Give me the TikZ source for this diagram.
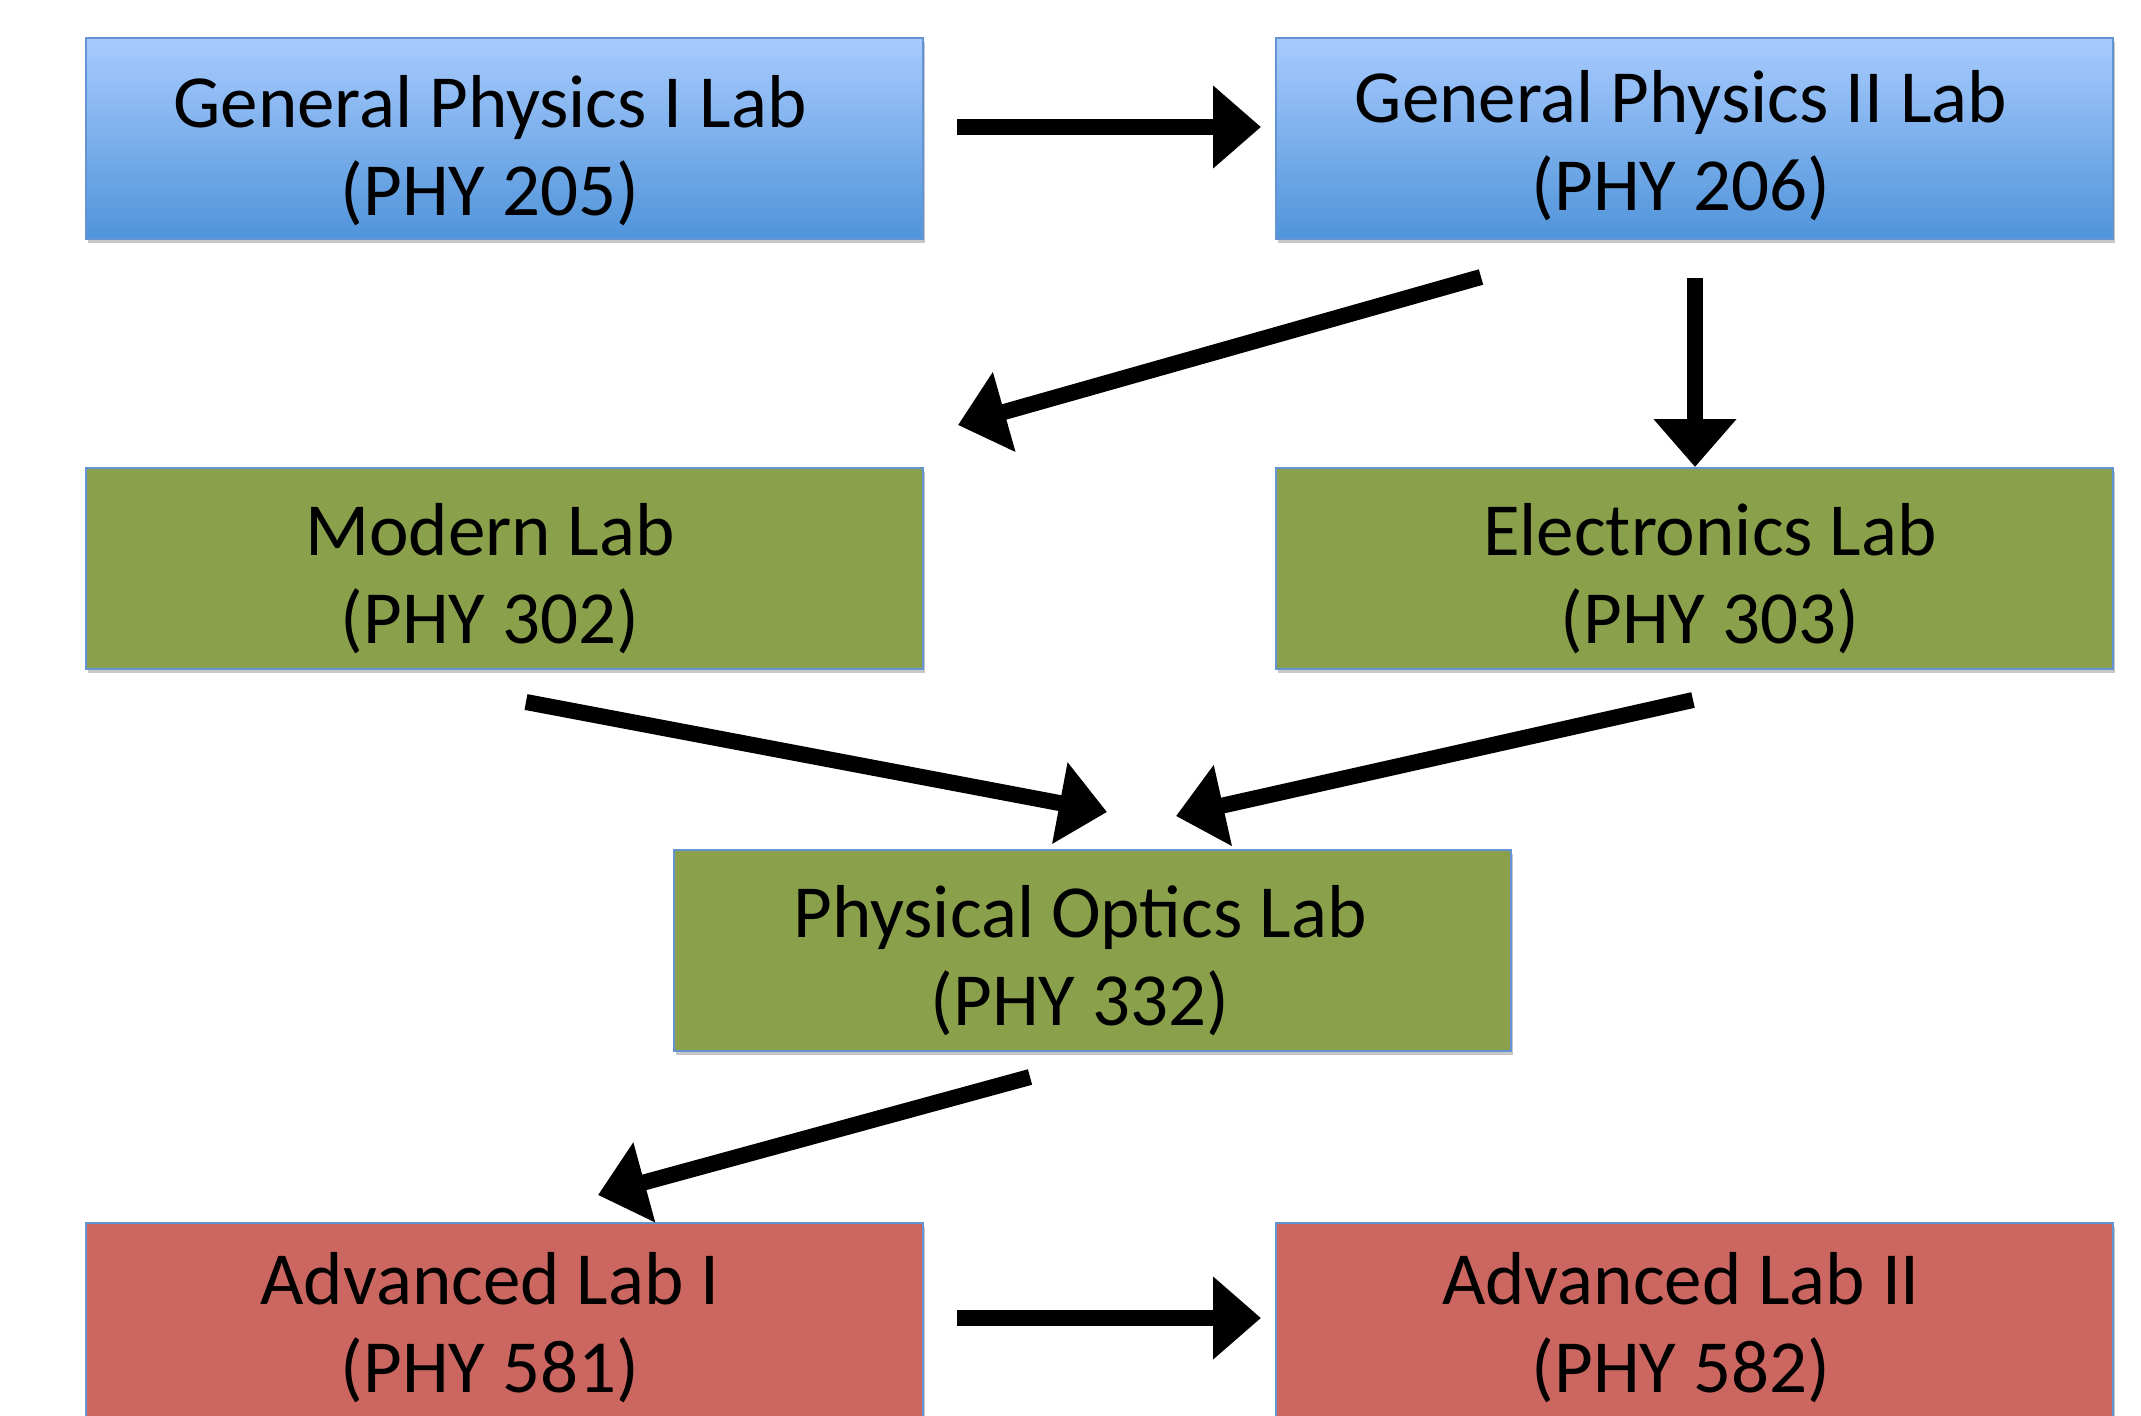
\documentclass[tikz,border=0pt]{standalone}
\usepackage{fontspec}
\setmainfont{Carlito}
\usetikzlibrary{arrows.meta,shadows}

\definecolor{bluetop}{RGB}{168,203,254}
\definecolor{bluebot}{RGB}{80,148,218}
\definecolor{boxedge}{RGB}{100,148,212}
\definecolor{greenfill}{RGB}{138,160,75}
\definecolor{redfill}{RGB}{204,102,96}

\begin{document}
\begin{tikzpicture}[x=0.5pt,y=-0.5pt,
  course/.style={draw=boxedge, line width=1pt, anchor=north west,
    minimum width=418.5pt, minimum height=100.5pt, inner sep=0pt,
    drop shadow={shadow xshift=0.8pt, shadow yshift=-1.8pt, opacity=0.22, fill=black}},
  intro/.style={course, top color=bluetop, bottom color=bluebot},
  middle/.style={course, fill=greenfill},
  advanced/.style={course, fill=redfill},
  % anchored at the baseline of the second line
  title/.style={anchor=base, align=center, inner sep=0pt, text=black,
    font=\fontsize{37.5}{44}\selectfont},
  prereq/.style={line width=8pt, black, -{Triangle[length=24pt,width=40pt]}}
]
\useasboundingbox (0,0) rectangle (2141,1415);
\clip (0,0) rectangle (2141,1415);
\fill[white] (0,0) rectangle (2141,1415);

% course boxes
\node[intro]    (gp1)  at (85,37)    {};
\node[intro]    (gp2)  at (1275,37)  {};
\node[middle]   (mod)  at (85,467)   {};
\node[middle]   (ele)  at (1275,467) {};
\node[middle]   (opt)  at (673,849)  {};
\node[advanced] (adv1) at (85,1222)  {};
\node[advanced] (adv2) at (1275,1222) {};

% course titles
\node[title] (gp1t)  at (490,215)  {General Physics I Lab\\(PHY 205)};
\node[title] (gp2t)  at (1681,210) {General Physics II Lab\\(PHY 206)};
\node[title] (modt)  at (490,643)  {Modern Lab\\(PHY 302)};
\node[title] (elet)  at (1710,643) {Electronics Lab\\(PHY 303)};
\node[title] (optt)  at (1080,1025) {Physical Optics Lab\\(PHY 332)};
\node[title] (adv1t) at (490,1392) {Advanced Lab I\\(PHY 581)};
\node[title] (adv2t) at (1681,1392) {Advanced Lab II\\(PHY 582)};

% arrow end points
\coordinate (a1s) at (957,127);   \coordinate (a1e) at (1261,127);
\coordinate (a2s) at (1481,277);  \coordinate (a2e) at (958,425);
\coordinate (a3s) at (1695,278);  \coordinate (a3e) at (1695,467);
\coordinate (a4s) at (526,702);   \coordinate (a4e) at (1107,812);
\coordinate (a5s) at (1693,700);  \coordinate (a5e) at (1176,816);
\coordinate (a6s) at (1030,1077); \coordinate (a6e) at (598,1195);
\coordinate (a7s) at (957,1318);  \coordinate (a7e) at (1261,1318);

% prerequisite arrows
\draw[prereq] (a1s) -- (a1e);
\draw[prereq] (a2s) -- (a2e);
\draw[prereq] (a3s) -- (a3e);
\draw[prereq] (a4s) -- (a4e);
\draw[prereq] (a5s) -- (a5e);
\draw[prereq] (a6s) -- (a6e);
\draw[prereq] (a7s) -- (a7e);
\end{tikzpicture}
\end{document}
